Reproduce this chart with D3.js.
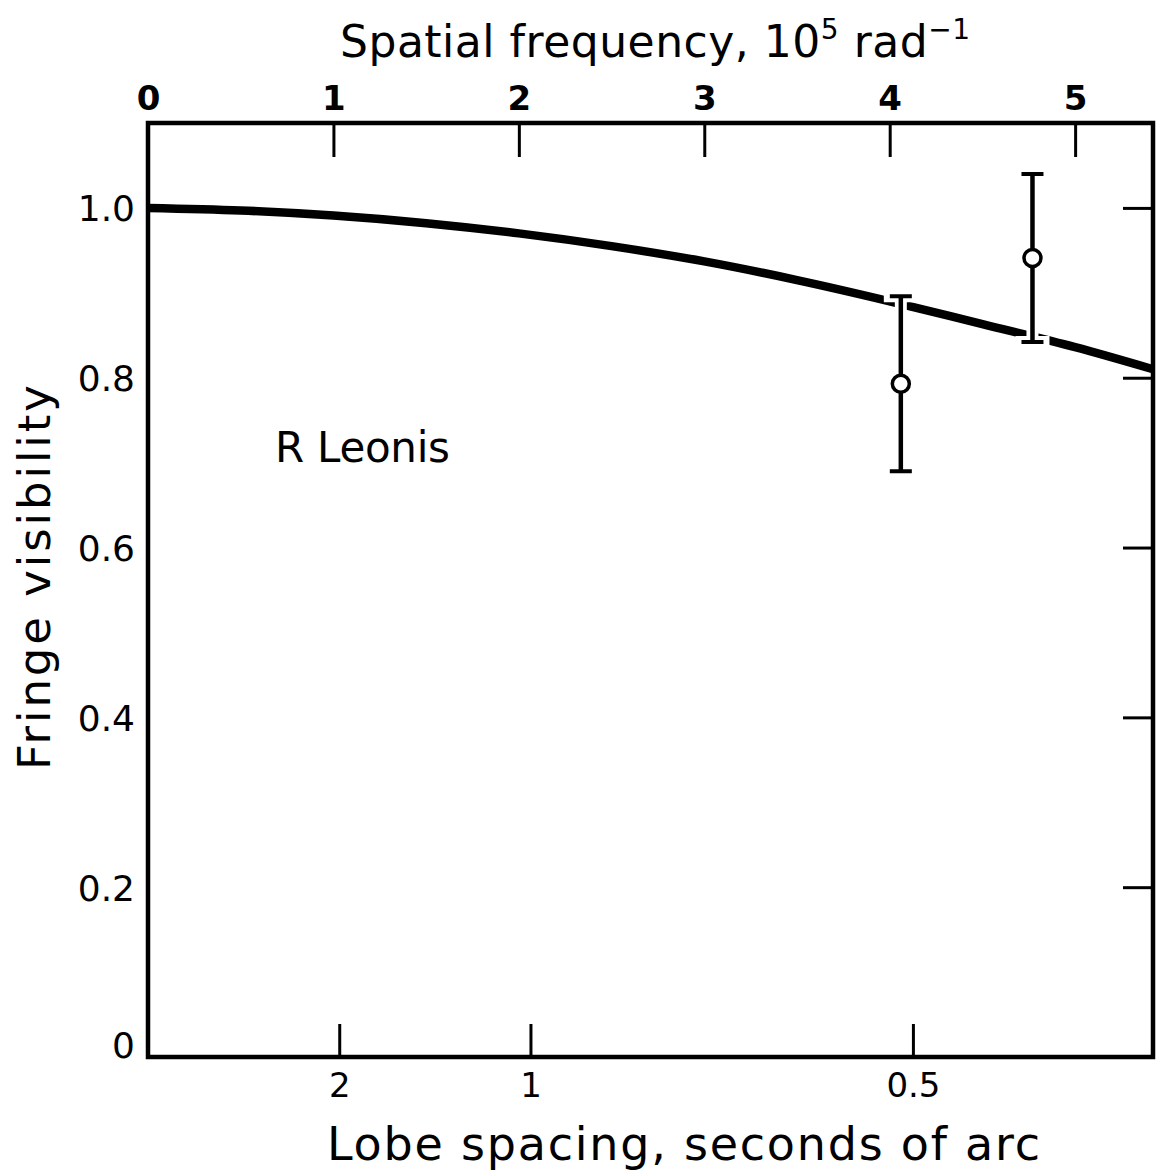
<!DOCTYPE html>
<html>
<head>
<meta charset="utf-8">
<script src="https://cdn.jsdelivr.net/npm/d3@7"></script>
<style>
  html, body { margin: 0; padding: 0; background: #fff; }
  svg { display: block; }
  text { font-family: "DejaVu Sans", "Noto Sans", sans-serif; fill: #000; }
</style>
</head>
<body>
<svg id="chart" width="1159" height="1173"></svg>
<script>
// ---- Data ----
const freqTicks = [0, 1, 2, 3, 4, 5];                 // spatial frequency, 1e5 rad^-1
const visTicks = [0, 0.2, 0.4, 0.6, 0.8, 1.0];
const visTickLabels = ["0", "0.2", "0.4", "0.6", "0.8", "1.0"];
const lobeTicks = [2, 1, 0.5];                        // lobe spacing, arcsec
const lobeTickLabels = ["2", "1", "0.5"];

// model curve
const curveFreq = [0, 0.5, 1.0, 1.5, 2.0, 2.5, 3.0, 3.5, 4.0, 4.5, 5.0, 5.42];
const curveVis  = [1.000, 0.997, 0.991, 0.982, 0.970, 0.955, 0.937, 0.915, 0.890, 0.863, 0.836, 0.810];

// measured points
const pointFreq = [4.06, 4.77];
const pointVis  = [0.793, 0.941];
const pointErr  = [0.103, 0.099];

const starName = "R Leonis";
const ARCSEC_FREQ = 2.0626; // 1/(1 arcsec) in units of 1e5 rad^-1

// ---- Layout ----
const svg = d3.select("#chart");
const L = 148, R = 1153, T = 123, B = 1057;
const x = d3.scaleLinear().domain([0, 5.42]).range([L, R]);
const y = d3.scaleLinear().domain([0, 1.1]).range([B, T]);

// curve
const line = d3.line().x((d, i) => x(curveFreq[i])).y(d => y(d)).curve(d3.curveMonotoneX);
svg.append("path")
  .attr("d", line(curveVis))
  .attr("fill", "none")
  .attr("stroke", "#000")
  .attr("stroke-width", 8.5)
  .attr("stroke-linecap", "butt");

// error bars: white knockout first, then black
const capW = 11;
const bars = svg.append("g");
pointFreq.forEach((f, i) => {
  const cx = x(f), yTop = y(pointVis[i] + pointErr[i]), yBot = y(pointVis[i] - pointErr[i]);
  const d = `M${cx},${yTop}V${yBot}M${cx - capW},${yTop}H${cx + capW}M${cx - capW},${yBot}H${cx + capW}`;
  bars.append("path").attr("d", d).attr("fill", "none").attr("stroke", "#fff").attr("stroke-width", 12).attr("stroke-linecap", "square");
});
pointFreq.forEach((f, i) => {
  const cx = x(f), yTop = y(pointVis[i] + pointErr[i]), yBot = y(pointVis[i] - pointErr[i]);
  bars.append("path").attr("d", `M${cx},${yTop}V${yBot}`).attr("stroke", "#000").attr("stroke-width", 4.5).attr("fill", "none");
  bars.append("path").attr("d", `M${cx - capW},${yTop}H${cx + capW}M${cx - capW},${yBot}H${cx + capW}`)
    .attr("stroke", "#000").attr("stroke-width", 4).attr("fill", "none");
  bars.append("circle").attr("cx", cx).attr("cy", y(pointVis[i])).attr("r", 8.5)
    .attr("fill", "#fff").attr("stroke", "#000").attr("stroke-width", 3.5);
});

// frame
svg.append("rect").attr("x", L).attr("y", T).attr("width", R - L).attr("height", B - T)
  .attr("fill", "none").attr("stroke", "#000").attr("stroke-width", 4.5);

// top axis
const topAx = svg.append("g").attr("transform", `translate(0,${T})`)
  .call(d3.axisTop(x).tickValues(freqTicks).tickSizeInner(-34).tickSizeOuter(0).tickPadding(13).tickFormat(d3.format("d")));
topAx.select(".domain").remove();
topAx.selectAll(".tick line").attr("stroke", "#000").attr("stroke-width", 3).filter(d => d === 0).remove();
topAx.selectAll(".tick text").style("font-size", "34px").style("font-weight", "bold").attr("fill", "#000");

// right axis (ticks only)
const rightAx = svg.append("g").attr("transform", `translate(${R},0)`)
  .call(d3.axisRight(y).tickValues(visTicks.filter(v => v > 0)).tickSizeInner(-30).tickSizeOuter(0).tickFormat(""));
rightAx.select(".domain").remove();
rightAx.selectAll(".tick line").attr("stroke", "#000").attr("stroke-width", 3);

// left axis (labels only)
const leftAx = svg.append("g").attr("transform", `translate(${L},0)`)
  .call(d3.axisLeft(y).tickValues(visTicks).tickSize(0).tickPadding(13).tickFormat((d, i) => visTickLabels[i]));
leftAx.select(".domain").remove();
leftAx.selectAll(".tick text").style("font-size", "36px").attr("fill", "#000")
  .attr("dy", d => d === 0 ? "0.0em" : "0.36em");

// bottom axis (lobe spacing)
const botAx = svg.append("g").attr("transform", `translate(0,${B})`)
  .call(d3.axisBottom(x).tickValues(lobeTicks.map(v => ARCSEC_FREQ / v)).tickSizeInner(-33).tickSizeOuter(0).tickPadding(16)
    .tickFormat((d, i) => lobeTickLabels[i]));
botAx.select(".domain").remove();
botAx.selectAll(".tick line").attr("stroke", "#000").attr("stroke-width", 3);
botAx.selectAll(".tick text").style("font-size", "34px").attr("fill", "#000");

// titles
const title = svg.append("text").attr("x", 340).attr("y", 57).style("font-size", "44px")
  .attr("textLength", 630).attr("lengthAdjust", "spacing");
title.append("tspan").text("Spatial frequency, 10");
title.append("tspan").attr("dy", -18).style("font-size", "28px").text("5");
title.append("tspan").attr("dy", 18).text(" rad");
title.append("tspan").attr("dy", -18).style("font-size", "28px").text("\u22121");

svg.append("text").attr("x", 327).attr("y", 1160).style("font-size", "46px")
  .attr("textLength", 713).attr("lengthAdjust", "spacing")
  .text("Lobe spacing, seconds of arc");

svg.append("text").attr("transform", "translate(50,770) rotate(-90)").style("font-size", "45px")
  .attr("textLength", 385).attr("lengthAdjust", "spacing")
  .text("Fringe visibility");

svg.append("text").attr("x", 275).attr("y", 462).style("font-size", "42px")
  .attr("textLength", 175).attr("lengthAdjust", "spacing").text(starName);
</script>
</body>
</html>
